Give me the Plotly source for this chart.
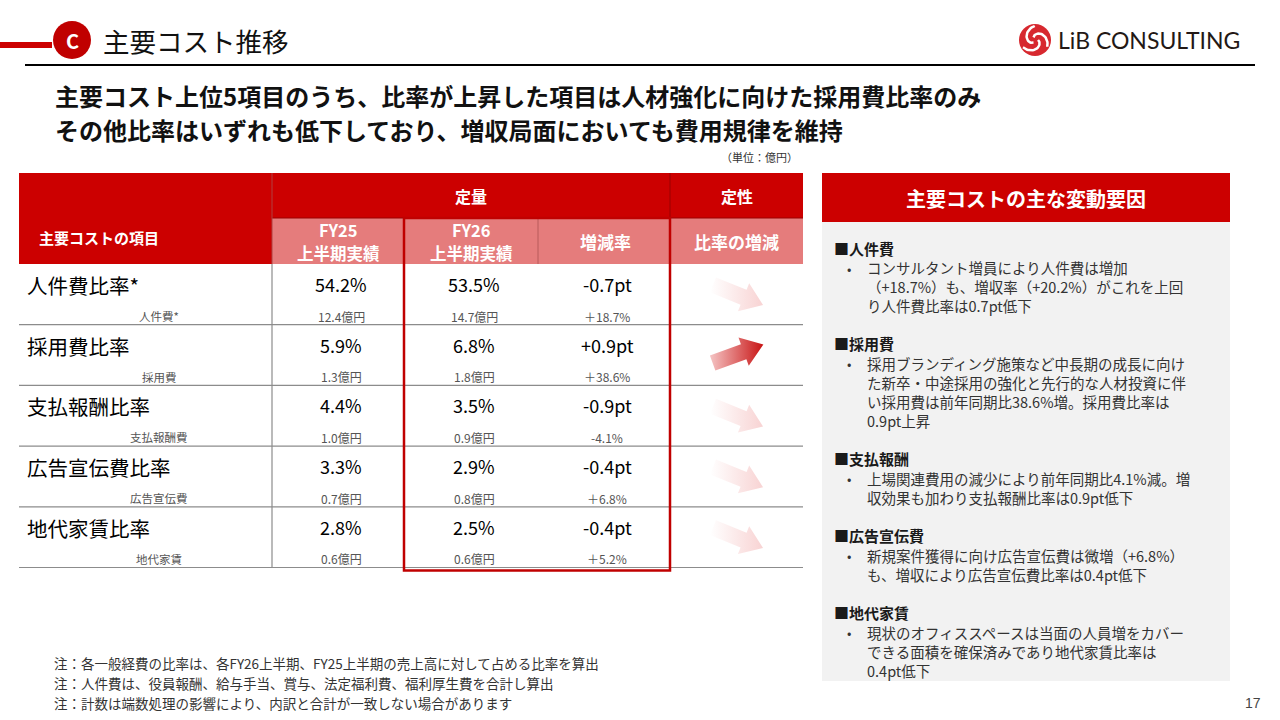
import numpy as np
import plotly.graph_objects as go

# --- table data ---
items = ["人件費比率*", "採用費比率", "支払報酬比率", "広告宣伝費比率", "地代家賃比率"]
sub_items = ["人件費*", "採用費", "支払報酬費", "広告宣伝費", "地代家賃"]
fy25_ratio = [54.2, 5.9, 4.4, 3.3, 2.8]
fy26_ratio = [53.5, 6.8, 3.5, 2.9, 2.5]
fy25_amount = [12.4, 1.3, 1.0, 0.7, 0.6]
fy26_amount = [14.7, 1.8, 0.9, 0.8, 0.6]
change_pt = [-0.7, 0.9, -0.9, -0.4, -0.4]
amount_growth = [18.7, 38.6, -4.1, 6.8, 5.2]

# --- right panel text ---
factor_titles = ["■人件費", "■採用費", "■支払報酬", "■広告宣伝費", "■地代家賃"]
factor_lines = [
    ["コンサルタント増員により人件費は増加",
     "（+18.7%）も、増収率（+20.2%）がこれを上回",
     "り人件費比率は0.7pt低下"],
    ["採用ブランディング施策など中長期の成長に向け",
     "た新卒・中途採用の強化と先行的な人材投資に伴",
     "い採用費は前年同期比38.6%増。採用費比率は",
     "0.9pt上昇"],
    ["上場関連費用の減少により前年同期比4.1%減。増",
     "収効果も加わり支払報酬比率は0.9pt低下"],
    ["新規案件獲得に向け広告宣伝費は微増（+6.8%）",
     "も、増収により広告宣伝費比率は0.4pt低下"],
    ["現状のオフィススペースは当面の人員増をカバー",
     "できる面積を確保済みであり地代家賃比率は",
     "0.4pt低下"],
]
notes = [
    "注：各一般経費の比率は、各FY26上半期、FY25上半期の売上高に対して占める比率を算出",
    "注：人件費は、役員報酬、給与手当、賞与、法定福利費、福利厚生費を合計し算出",
    "注：計数は端数処理の影響により、内訳と合計が一致しない場合があります",
]

JP = "Noto Sans CJK JP"
RED = "#CC0000"
PINK = "#E57C7C"
BOX = "#C00000"
GRID = "#8C8C8C"

fig = go.Figure()
shapes = []
anns = []


def rect(x0, y0, x1, y1, fill, line=None, lw=0, layer="below"):
    shapes.append(dict(type="rect", x0=x0, y0=y0, x1=x1, y1=y1, xref="x", yref="y",
                       fillcolor=fill, line=dict(color=line or fill, width=lw), layer=layer))


def hline(x0, x1, y, color=GRID, w=1):
    shapes.append(dict(type="line", x0=x0, x1=x1, y0=y, y1=y, xref="x", yref="y",
                       line=dict(color=color, width=w), layer="below"))


def vline(x, y0, y1, color=GRID, w=1):
    shapes.append(dict(type="line", x0=x, x1=x, y0=y0, y1=y1, xref="x", yref="y",
                       line=dict(color=color, width=w), layer="below"))


def text(x, y, s, size, color="#000000", bold=False, anchor="left", family=JP):
    if bold:
        s = "<b>" + s + "</b>"
    anns.append(dict(x=x, y=y, xref="x", yref="y", text=s, showarrow=False,
                     xanchor=anchor, yanchor="middle", align=anchor if anchor != "center" else "center",
                     font=dict(family=family, size=size, color=color)))


# ---------- header ----------
hline(0, 52, 45, RED, 6)
shapes.append(dict(type="circle", x0=53, y0=21, x1=91, y1=59, xref="x", yref="y",
                   fillcolor=BOX, line=dict(color=BOX, width=0), layer="below"))
text(72, 40, "C", 20, "white", bold=True, anchor="center")
text(101, 40, "主要コスト推移", 26.5, "#111111")
hline(25, 1255, 65, "#000000", 2)

# logo
shapes.append(dict(type="circle", x0=1019, y0=24, x1=1051, y1=56, xref="x", yref="y",
                   fillcolor="#D7282F", line=dict(color="#D7282F", width=0), layer="below"))
for k in range(3):
    t = np.linspace(0, 1, 30)
    ang = 2 * np.pi * k / 3 + 2.6 * t
    r = 3 + 11 * t
    fig.add_trace(go.Scatter(x=1035 + r * np.cos(ang), y=40 + r * np.sin(ang), mode="lines",
                             line=dict(color="white", width=2.5), hoverinfo="skip", showlegend=False))
text(1056, 40, "LiB CONSULTING", 23, "#231815", family="Lato")

text(53, 95, "主要コスト上位5項目のうち、比率が上昇した項目は人材強化に向けた採用費比率のみ", 24, "#111111", bold=True)
text(53, 129, "その他比率はいずれも低下しており、増収局面においても費用規律を維持", 24, "#111111", bold=True)
text(800, 157, "（単位：億円）", 11, "#333333", anchor="right")

# ---------- table ----------
tx0, tx1 = 19, 803
cols = [19, 272, 404, 538, 670, 803]
h_top, h_mid, h_bot = 173, 218, 264
row_h = 60.7

rect(tx0, h_top, tx1, h_bot, RED)
rect(cols[1], h_mid, cols[5], h_bot, PINK)
hline(cols[1], cols[5], h_mid, "#9A0000", 1)
vline(cols[1], h_top, h_bot, "#B04040", 1)
vline(cols[4], h_top, h_bot, "#9A0000", 1)
vline(cols[3], h_mid, h_bot, "#B85A5A", 1)

text(37, 237, "主要コストの項目", 15, "white", bold=True)
text((cols[1] + cols[4]) / 2, 196, "定量", 16, "white", bold=True, anchor="center")
text((cols[4] + cols[5]) / 2, 196, "定性", 16, "white", bold=True, anchor="center")
for c, fy in ((1, "FY25"), (2, "FY26")):
    xc = (cols[c] + cols[c + 1]) / 2
    text(xc, 230, fy, 16.5, "white", bold=True, anchor="center")
    text(xc, 253, "上半期実績", 16.5, "white", bold=True, anchor="center")
text((cols[3] + cols[4]) / 2 + 1, 241, "増減率", 17, "white", bold=True, anchor="center")
text((cols[4] + cols[5]) / 2, 241, "比率の増減", 17, "white", bold=True, anchor="center")

val_x = [341, 474, 607]
for i, name in enumerate(items):
    top = h_bot + i * row_h
    hline(tx0, tx1, top + row_h, GRID, 1.2)
    text(25, top + 21, name, 20.5, "#000000")
    text(159, top + 52, sub_items[i], 11.5, "#555555", anchor="center")
    text(val_x[0], top + 20, f"{fy25_ratio[i]:.1f}%", 18, "#000000", anchor="center")
    text(val_x[1], top + 20, f"{fy26_ratio[i]:.1f}%", 18, "#000000", anchor="center")
    text(val_x[2], top + 20, f"{change_pt[i]:+.1f}pt", 18, "#000000", anchor="center")
    text(val_x[0], top + 52, f"{fy25_amount[i]:.1f}億円", 12, "#555555", anchor="center")
    text(val_x[1], top + 52, f"{fy26_amount[i]:.1f}億円", 12, "#555555", anchor="center")
    g = amount_growth[i]
    gs = f"＋{g:.1f}%" if g > 0 else f"{g:.1f}%"
    text(val_x[2], top + 52, gs, 12, "#555555", anchor="center")

    # qualitative arrow: direction from the sign of the ratio change
    up = change_pt[i] > 0
    ang = np.deg2rad(-20 if up else 22)
    cx, cy = 738, top + (29 if up else 31)
    L, sw, hl, hw = 54, 8, 21, 15
    u = np.array([0, L - hl, L - hl, L, L - hl, L - hl, 0, 0]) - L / 2
    v = np.array([-sw, -sw, -hw, 0, hw, sw, sw, -sw])
    px = cx + u * np.cos(ang) - v * np.sin(ang)
    py = cy + u * np.sin(ang) + v * np.cos(ang)
    cs = [[0, "#F5C4C4"], [1, "#C81414"]] if up else [[0, "#FFFFFF"], [1, "#F8D3D3"]]
    fig.add_trace(go.Scatter(x=px, y=py, mode="lines", fill="toself",
                             fillgradient=dict(type="horizontal", colorscale=cs),
                             line=dict(width=0, color="rgba(0,0,0,0)"),
                             hoverinfo="skip", showlegend=False))

vline(cols[1], h_bot, h_bot + 5 * row_h, GRID, 1.2)
rect(cols[2], h_mid, cols[4], h_bot + 5 * row_h + 3, "rgba(0,0,0,0)", BOX, 2.5, layer="above")

# ---------- right panel ----------
rect(822, 222, 1230, 681, "#F2F2F2")
rect(822, 173, 1230, 222, RED)
text(1026, 198, "主要コストの主な変動要因", 20, "white", bold=True, anchor="center")
y = 248
step = 18.7
for title, lines in zip(factor_titles, factor_lines):
    text(832, y, title, 15, "#1A1A1A", bold=True)
    first = y + 20
    text(845, first, "•", 13, "#333333")
    text(865, first + (len(lines) - 1) * step / 2, "<br>".join(lines), 14.5, "#333333")
    y = first + (len(lines) - 1) * step + 38.5

# ---------- footnotes ----------
for k, n in enumerate(notes):
    text(52, 663 + 20 * k, n, 13.5, "#333333")
text(1263, 703, "17", 14, "#444444", anchor="right", family="Liberation Sans")

fig.update_layout(
    width=1280, height=720,
    margin=dict(l=0, r=0, t=0, b=0),
    paper_bgcolor="white", plot_bgcolor="white",
    xaxis=dict(range=[0, 1280], visible=False, fixedrange=True),
    yaxis=dict(range=[720, 0], visible=False, fixedrange=True),
    shapes=shapes, annotations=anns, showlegend=False,
)
fig.write_html("out.html", config={"displayModeBar": False},
               post_script="document.body.style.margin='0';")
